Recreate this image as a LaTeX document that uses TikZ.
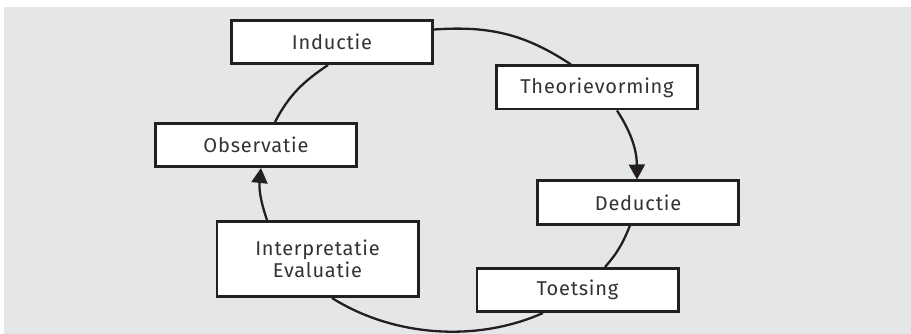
\documentclass[tikz,border=0pt]{standalone}
\usepackage{fontspec}
\setmainfont[LetterSpace=4]{Fira Sans}
\usetikzlibrary{arrows.meta}
\definecolor{panel}{HTML}{E5E6E8}
\definecolor{ink}{HTML}{231F20}
\definecolor{label}{HTML}{333333}
\tikzset{
  stage/.style={draw=ink, line width=2.8pt, fill=white, minimum width=201.2pt,
    minimum height=43.2pt, inner sep=0pt, align=center, text=label,
    font=\fontsize{20}{22}\selectfont},
  link/.style={draw=ink, line width=2.3pt},
  linkarrow/.style={link, -{Triangle[length=15pt,width=16pt]}}
}
\begin{document}
\begin{tikzpicture}[x=1pt,y=1pt]
  \useasboundingbox (0,0) rectangle (911,-334);
  \fill[panel] (4,-7) rectangle (911,-334);

  % stages of the empirical cycle
  \node[stage] (ind)    at (332,-42)    {Inductie};
  \node[stage] (theo)   at (597,-87.5)  {Theorievorming};
  \node[stage] (ded)    at (638,-202.5) {Deductie};
  \node[stage] (toet)   at (577.5,-290) {Toetsing};
  \node[stage, minimum height=75.2pt] (interp) at (317.5,-259) {Interpretatie\\Evaluatie};
  \node[stage] (obs)    at (256,-145)   {Observatie};

  % the cycle, clockwise
  \draw[link] ([yshift=12.5pt]ind.east) to[out=4,in=146.5] ([xshift=-26pt]theo.north);
  \draw[linkarrow] ([xshift=20pt]theo.south) to[out=-57,in=90.5] ([xshift=-1pt]ded.north);
  \draw[link] ([xshift=-8pt]ded.south) to[out=248,in=48.4] ([xshift=27.5pt]toet.north);
  \draw[link] ([xshift=-34.5pt]toet.south) to[out=204,in=-32.2,looseness=0.88] ([xshift=14.5pt]interp.south);
  \draw[linkarrow] ([xshift=-50.5pt]interp.north) to[out=109,in=264.2] ([xshift=5pt]obs.south);
  \draw[link] ([xshift=19pt]obs.north) to[out=62.4,in=214] ([xshift=-4pt]ind.south);
\end{tikzpicture}
\end{document}
